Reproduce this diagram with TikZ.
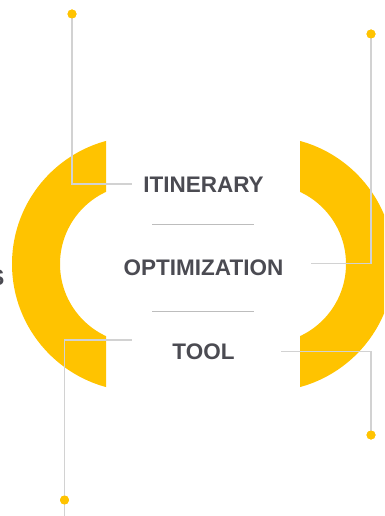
\documentclass[tikz,border=0pt]{standalone}
\usepackage{fontspec}
\setmainfont{Liberation Sans}
\usepackage{tikz}
\definecolor{amber}{HTML}{FFC300}
\definecolor{ink}{HTML}{4B4B52}
\definecolor{wire}{HTML}{D2D2D2}
\tikzstyle{title} = [font=\bfseries\fontsize{22.5}{26}\selectfont, text=ink,
    inner sep=0pt, anchor=base]
\tikzstyle{leader} = [draw=wire, line width=1.3pt]
\tikzstyle{rule} = [draw=wire!90!black, line width=0.9pt]
\tikzstyle{dot} = [circle, fill=amber, minimum size=9pt, inner sep=0pt]

\begin{document}
\begin{tikzpicture}[x=1pt, y=-1pt]
    \useasboundingbox (0,0) rectangle (384,516);
    \clip (0,0) rectangle (384,516);
    % Place the two half rings
\begin{scope}
  \clip (0,0) rectangle (106,516);
  \fill[amber, even odd rule] (139.5,264) circle (127.5) circle (79.5);
\end{scope}
\begin{scope}
  \clip (300,0) rectangle (384,516);
  \fill[amber, even odd rule] (266.5,264) circle (127.5) circle (79.5);
\end{scope}

    % Place nodes
\node[title] (itin) at (203.5,192) {ITINERARY};
\node[title] (optim) at (203.5,275) {OPTIMIZATION};
\node[title] (tool) at (203.5,359.5) {TOOL};
\node[title, anchor=base east] (edge) at (4.5,285) {S};
\coordinate (itin-end) at (131.5,184);
\coordinate (optim-end) at (311,263.5);
\coordinate (tool-end) at (131.5,340);
\coordinate (tool-start) at (281,351.5);
\coordinate (tail) at (64.5,516);
\coordinate (rule1a) at (152,224); \coordinate (rule1b) at (254,224);
\coordinate (rule2a) at (152,311.5); \coordinate (rule2b) at (254,311.5);

    % Draw edges
\path[rule] (rule1a) -- (rule1b);
\path[rule] (rule2a) -- (rule2b);
\node[dot] (d1) at (72,14) {};
\node[dot] (d2) at (371,34) {};
\node[dot] (d3) at (64.5,500) {};
\node[dot] (d4) at (371,435) {};
\path[leader] (d1.center) |- (itin-end);
\path[leader] (d2.center) |- (optim-end);
\path[leader] (tool-end) -| (tail);
\path[leader] (tool-start) -| (d4.center);
\node[dot] at (d1) {};
\node[dot] at (d2) {};
\node[dot] at (d3) {};
\node[dot] at (d4) {};

\end{tikzpicture}
\end{document}
